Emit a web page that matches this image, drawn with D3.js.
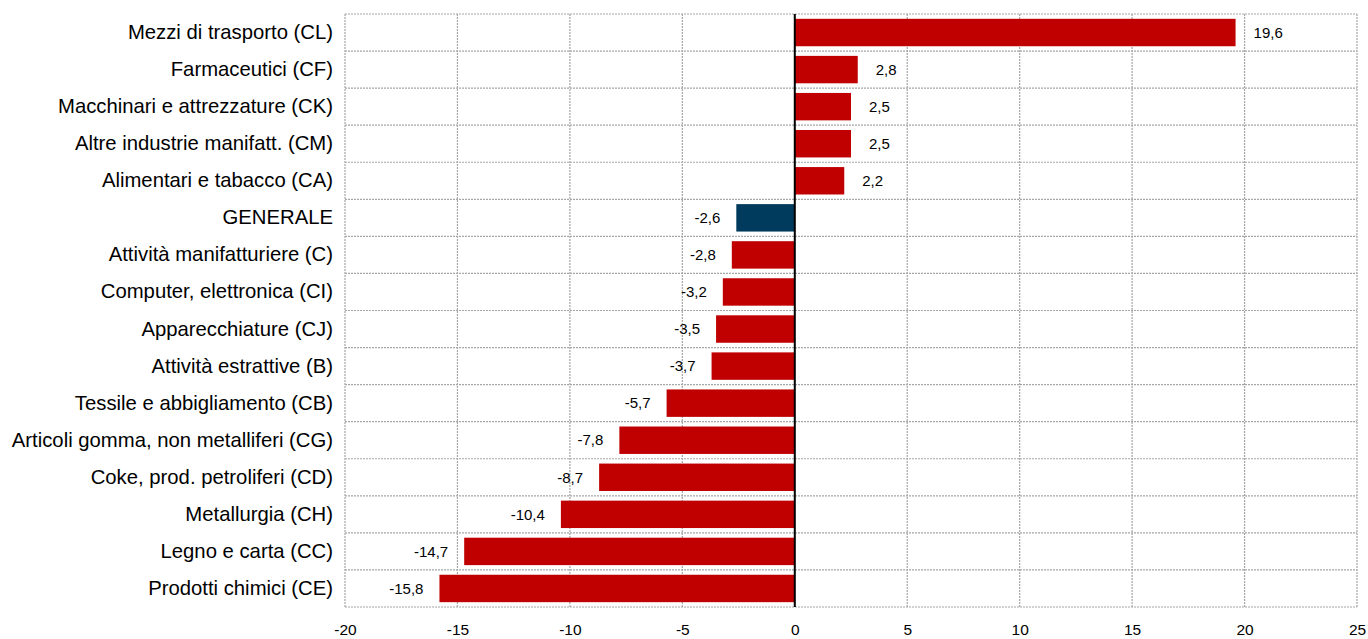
<!DOCTYPE html>
<html><head><meta charset="utf-8">
<script src="https://cdn.jsdelivr.net/npm/d3@7"></script>
<style>body{margin:0;background:#fff}svg{display:block}text{font-family:"Liberation Sans",Arial,sans-serif}</style>
</head><body><svg id="c" width="1368" height="639"></svg>
<script>
const categories = ["Mezzi di trasporto (CL)","Farmaceutici (CF)","Macchinari e attrezzature (CK)","Altre industrie manifatt. (CM)","Alimentari e tabacco (CA)","GENERALE","Attività manifatturiere (C)","Computer, elettronica (CI)","Apparecchiature (CJ)","Attività estrattive (B)","Tessile e abbigliamento (CB)","Articoli gomma, non metalliferi (CG)","Coke, prod. petroliferi (CD)","Metallurgia (CH)","Legno e carta (CC)","Prodotti chimici (CE)"];
const values = [19.6,2.8,2.5,2.5,2.2,-2.6,-2.8,-3.2,-3.5,-3.7,-5.7,-7.8,-8.7,-10.4,-14.7,-15.8];
const xTicks = [-20,-15,-10,-5,0,5,10,15,20,25];
const highlight = "GENERALE";

const svg = d3.select("#c");
const L=345, R=1357, T=14, B=607;
const x = d3.scaleLinear().domain([-20,25]).range([L,R]);
const y = d3.scaleBand().domain(categories).range([T,B]).paddingInner(0.26).paddingOuter(0.13);
const fmt = v => String(v.toFixed(1)).replace(".", ",");

const g = svg.append("g");
g.selectAll("line.vg").data(xTicks).join("line")
  .attr("x1",d=>x(d)).attr("x2",d=>x(d)).attr("y1",T).attr("y2",B)
  .attr("stroke","#a6a6a6").attr("stroke-width",1.2).attr("stroke-dasharray","2,1");
const step = (B-T)/categories.length;
const hLines = d3.range(categories.length+1).map(i=>T+i*step);
g.selectAll("line.hg").data(hLines).join("line")
  .attr("x1",L).attr("x2",R).attr("y1",d=>d).attr("y2",d=>d)
  .attr("stroke","#a6a6a6").attr("stroke-width",1.2).attr("stroke-dasharray","2,1");

g.selectAll("rect.bar").data(values).join("rect")
  .attr("x",(d)=>x(Math.min(0,d))).attr("width",d=>Math.abs(x(d)-x(0)))
  .attr("y",(d,i)=>y(categories[i])).attr("height",y.bandwidth())
  .attr("fill",(d,i)=>categories[i]===highlight?"#003a5c":"#c00000");

g.append("line").attr("x1",x(0)).attr("x2",x(0)).attr("y1",T).attr("y2",B)
  .attr("stroke","#000").attr("stroke-width",2);

g.selectAll("text.val").data(values).join("text")
  .attr("x",d=>d>=0? x(d)+18 : x(d)-16)
  .attr("y",(d,i)=>y(categories[i])+y.bandwidth()/2)
  .attr("dy","0.35em")
  .attr("text-anchor",d=>d>=0?"start":"end")
  .attr("font-size",15).attr("fill","#000")
  .text(fmt);

const yAxis = d3.axisLeft(y).tickSize(0).tickPadding(12);
const ya = svg.append("g").attr("transform",`translate(${L},0)`).call(yAxis);
ya.select(".domain").remove();
ya.selectAll("text").attr("font-size",20.3).attr("fill","#000").attr("font-family",'"Liberation Sans",Arial,sans-serif');

const xAxis = d3.axisBottom(x).tickValues(xTicks).tickSize(0).tickPadding(20).tickFormat(d=>String(d));
const xa = svg.append("g").attr("transform",`translate(0,${B})`).call(xAxis);
xa.select(".domain").remove();
xa.selectAll("text").attr("dy",null).attr("y",27.5)
  .attr("font-size",15.5).attr("fill","#000").attr("font-family",'"Liberation Sans",Arial,sans-serif');
</script></body></html>
